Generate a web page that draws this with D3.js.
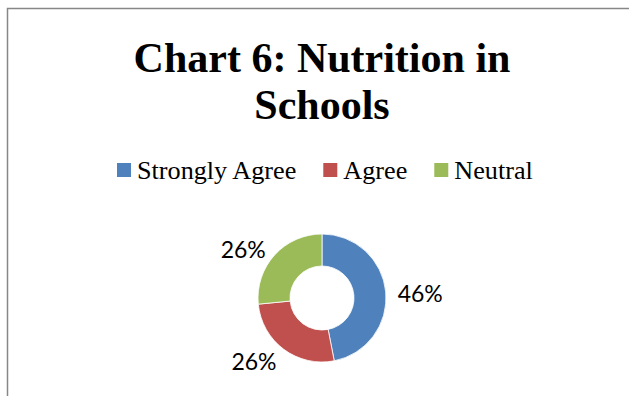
<!DOCTYPE html>
<html>
<head>
<meta charset="utf-8">
<script src="https://cdn.jsdelivr.net/npm/d3@7"></script>
<style>
  html, body { margin: 0; padding: 0; background: #ffffff; }
  svg { display: block; }
</style>
</head>
<body>
<svg id="chart" width="629" height="396"></svg>
<script>
// Survey responses on nutrition in schools
const categories = ["Strongly Agree", "Agree", "Neutral"];
const values = [46, 26, 26];
const valueLabels = ["46%", "26%", "26%"];
const colors = ["#4F81BD", "#C0504D", "#9BBB59"];
const titleLines = ["Chart 6: Nutrition in", "Schools"];

const width = 629, height = 396;
const svg = d3.select("#chart");

// Frame lines (left and top edges of the chart area)
svg.append("path")
  .attr("d", `M7.5,${height} L7.5,8.5 L${width},8.5`)
  .attr("fill", "none")
  .attr("stroke", "#878787")
  .attr("stroke-width", 1.5);

// Title
const title = svg.append("text")
  .attr("text-anchor", "middle")
  .attr("font-family", "'Liberation Serif', 'Times New Roman', serif")
  .attr("font-weight", "bold")
  .attr("font-size", 42)
  .attr("fill", "#000");
titleLines.forEach((line, i) => {
  title.append("tspan")
    .attr("x", 322)
    .attr("y", 72 + i * 47)
    .text(line);
});

// Legend: colour swatch followed by category name, laid out left to right
const legend = svg.append("g")
  .attr("font-family", "'Liberation Serif', 'Times New Roman', serif")
  .attr("font-size", 26.2);
let lx = 117;
categories.forEach((c, i) => {
  const g = legend.append("g").attr("transform", `translate(${lx},0)`);
  g.append("rect")
    .attr("x", 0).attr("y", 163)
    .attr("width", 14).attr("height", 14)
    .attr("fill", colors[i]);
  const t = g.append("text")
    .attr("x", 20).attr("y", 179)
    .attr("fill", "#000")
    .text(c);
  const w = t.node().getComputedTextLength();
  lx += 20 + w + 27;
});

// Donut
const cx = 322, cy = 298;
const outerR = 64, innerR = 32;
const pie = d3.pie().sort(null).value(d => d);
const arcs = pie(values);
const arc = d3.arc().innerRadius(innerR).outerRadius(outerR);

const donut = svg.append("g").attr("transform", `translate(${cx},${cy})`);
donut.selectAll("path")
  .data(arcs)
  .join("path")
  .attr("d", arc)
  .attr("fill", (d, i) => colors[i])
  .attr("stroke", "#ffffff")
  .attr("stroke-width", 0.8);

// Data labels placed just outside each slice
const labelArc = d3.arc().innerRadius(76).outerRadius(76);
donut.selectAll("text")
  .data(arcs)
  .join("text")
  .attr("font-family", "Lato, 'Open Sans', sans-serif")
  .attr("font-size", 23)
  .attr("fill", "#000")
  .attr("dominant-baseline", "central")
  .attr("text-anchor", "middle")
  .each(function (d, i) {
    const [x, y] = labelArc.centroid(d);
    const sel = d3.select(this).text(valueLabels[i]);
    const w = this.getComputedTextLength();
    const side = Math.sin((d.startAngle + d.endAngle) / 2) >= 0 ? 1 : -1;
    sel.attr("x", x + side * w / 2).attr("y", y + 2);
  });
</script>
</body>
</html>
